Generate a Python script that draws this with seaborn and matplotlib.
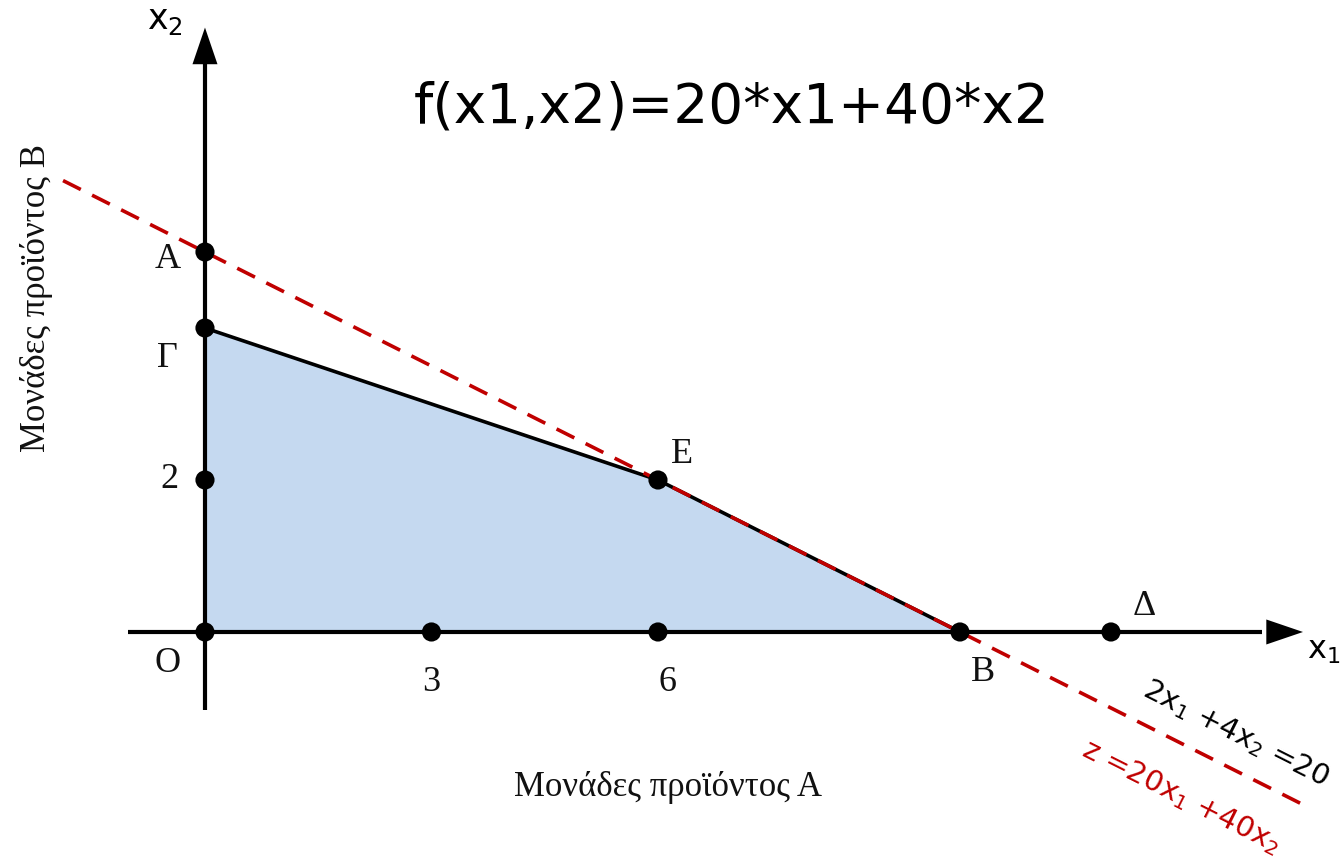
import numpy as np
import pandas as pd
import matplotlib
matplotlib.use("Agg")
import matplotlib.pyplot as plt
import seaborn as sns

# Corner points and labelled points of the LP problem
pt_names = ["O", "Α", "Γ", "2", "Ε", "3", "6", "Β", "Δ"]
pt_x1 = [0, 0, 0, 0, 6, 3, 6, 10, 12]
pt_x2 = [0, 5, 4, 2, 2, 0, 0, 0, 0]

# Feasible region (O, Γ, E, B)
region_x1 = [0, 0, 6, 10]
region_x2 = [0, 4, 2, 0]

# Binding constraint boundary Γ-E-B
boundary_x1 = [0, 6, 10]
boundary_x2 = [4, 2, 0]

# Objective / constraint line 2x1 + 4x2 = 20 extended across the plane
obj_x1 = [-1.88, 14.57]
obj_x2 = [5 - x / 2 for x in obj_x1]

sns.set_theme(style="white")
plt.rcParams["font.family"] = ["DejaVu Sans"]
plt.rcParams["text.color"] = "black"
serif = ["Liberation Serif", "DejaVu Serif"]

fig = plt.figure(figsize=(13.42, 8.64), dpi=100)
ax = fig.add_axes([0, 0, 1, 1])
ax.set_xlim(-2.715, 15.06)
ax.set_ylim(-3.053, 8.316)
ax.axis("off")

# Shaded feasible region
ax.fill(region_x1, region_x2, color="#c5d9f0", lw=0, zorder=1)

# Coordinate axes with arrow heads
ax.plot([-1.02, 14.0], [0, 0], color="black", lw=3, zorder=3, solid_capstyle="butt")
ax.plot([0, 0], [-1.03, 7.5], color="black", lw=3, zorder=3, solid_capstyle="butt")
head = "-|>,head_length=2.2,head_width=0.75"
ax.annotate("", xy=(14.58, 0), xytext=(13.9, 0),
            arrowprops=dict(arrowstyle=head, color="black", lw=0), zorder=4)
ax.annotate("", xy=(0, 7.99), xytext=(0, 7.3),
            arrowprops=dict(arrowstyle=head, color="black", lw=0), zorder=4)

# Constraint boundary
bdf = pd.DataFrame({"x1": boundary_x1, "x2": boundary_x2})
sns.lineplot(data=bdf, x="x1", y="x2", color="black", lw=2.6, sort=False,
             estimator=None, ax=ax, zorder=5)

# Iso-profit line z = 20x1 + 40x2
odf = pd.DataFrame({"x1": obj_x1, "x2": obj_x2})
sns.lineplot(data=odf, x="x1", y="x2", color="#c00000", lw=2.6, sort=False,
             estimator=None, ax=ax, zorder=6)
ax.lines[-1].set_dashes((5.5, 3.5))

# Points
pdf = pd.DataFrame({"x1": pt_x1, "x2": pt_x2, "name": pt_names})
sns.scatterplot(data=pdf, x="x1", y="x2", color="black", s=190,
                edgecolor="none", ax=ax, zorder=7)

# Point labels
label_pos = {
    "O": (-0.5, -0.41), "Α": (-0.5, 4.9), "Γ": (-0.5, 3.6), "2": (-0.47, 2.0),
    "Ε": (6.32, 2.33), "3": (3.0, -0.66), "6": (6.12, -0.66),
    "Β": (10.3, -0.53), "Δ": (12.44, 0.33),
}
for name in pt_names:
    lx, ly = label_pos[name]
    ax.text(lx, ly, name, family=serif, fontsize=26, color="#111111",
            ha="center", va="center")

# Axis names
ax.text(14.6, -0.24, r"x$_1$", fontsize=23, ha="left", va="center")
ax.text(-0.53, 8.05, r"x$_2$", fontsize=25, ha="center", va="center")

# Axis titles
ax.text(6.13, -2.04, "Μονάδες προϊόντος Α", family=serif, fontsize=25,
        color="#111111", ha="center", va="center")
ax.text(-2.23, 4.4, "Μονάδες προϊόντος Β", family=serif, fontsize=25,
        color="#111111", ha="center", va="center", rotation=90)

# Objective function title
ax.text(6.98, 6.9, "f(x1,x2)=20*x1+40*x2", fontsize=39.5, color="black",
        ha="center", va="center")

# Line equations along the dashed line
ang = -26.7
ax.text(13.66, -1.33, r"2x$_1$ +4x$_2$ =20", fontsize=21, color="black",
        rotation=ang, ha="center", va="center")
ax.text(12.93, -2.17, r"z =20x$_1$ +40x$_2$", fontsize=21, color="#c00000",
        rotation=ang, ha="center", va="center")

fig.savefig("out.png", dpi=100)
